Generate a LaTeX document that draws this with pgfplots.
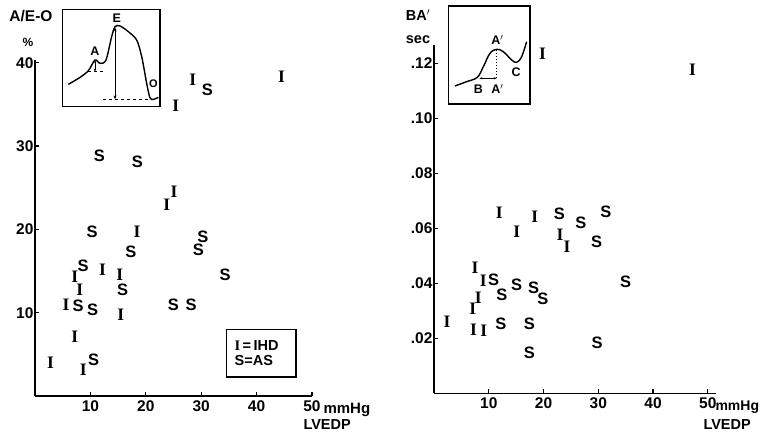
\documentclass[border=0pt]{standalone}
\usepackage{fontspec}
\setmainfont{Liberation Sans}
\newfontfamily\serifI{Liberation Serif}
\usepackage{pgfplots}
\pgfplotsset{compat=1.18}
\usetikzlibrary{arrows.meta}
\pgfplotsset{
  panel/.style={
    scale only axis,
    anchor=south west,
    axis lines=left,
    axis line style={-, line width=1.5pt},
    tick align=inside,
    major tick length=4pt,
    tick style={line width=1.2pt, black},
    /pgf/number format/assume math mode=true,
    tick label style={font=\fontsize{15.5}{17}\selectfont\bfseries},
    xtick={10,20,30,40,50},
    xticklabel style={yshift=-1pt},
    yticklabel style={xshift=2pt},
    clip=false,
  },
  imark/.style={only marks, mark=text, text mark={I}, text mark as node=true,
    text mark style={font=\fontsize{17.5}{17}\selectfont\serifI\bfseries}},
  smark/.style={only marks, mark=text, text mark={S}, text mark as node=true,
    text mark style={font=\fontsize{16.5}{17}\selectfont\bfseries}},
  inset/.style={scale only axis, anchor=south west, xmin=0, xmax=100, ymin=0, ymax=100,
    ticks=none, axis line style={line width=1.5pt}, clip=false},
}
\begin{document}
\begin{tikzpicture}
\useasboundingbox (0,0) rectangle (763pt,436pt);
% ---------------- Left panel ----------------
\begin{axis}[panel, at={(35pt,40pt)}, width=277pt, height=335.7pt,
  xmin=0, xmax=50, ymin=0, ymax=40.3,
  ytick={10,20,30,40}]
\addplot[imark] coordinates {(44.5,38.3) (28.5,38.0) (25.4,34.9) (25.1,24.5) (23.8,22.9)
 (18.4,19.7) (7.2,14.3) (12.2,15.1) (15.3,14.6) (8.1,12.7) (5.6,10.9) (15.5,9.8)
 (7.2,7.1) (2.8,4.0) (8.7,3.1)};
\addplot[smark] coordinates {(31.1,36.7) (11.6,28.8) (18.5,28.1) (10.3,19.7) (30.3,19.1)
 (29.5,17.5) (17.3,17.3) (8.7,15.6) (34.3,14.5) (15.8,12.7) (7.8,10.8) (10.4,10.3)
 (25.0,11.0) (28.2,11.0) (10.6,4.4)};
\draw[line width=1.4pt] (axis cs:34.6,8.0) rectangle (axis cs:47.1,2.3);
\node[anchor=west, font=\fontsize{14.5}{16}\selectfont\bfseries, align=left] at (axis cs:35.4,5.1)
  {{\serifI I}\,=\,IHD\\[-1pt]S=AS};
\end{axis}
\node[font=\fontsize{15.5}{17}\selectfont\bfseries] at (31pt,420pt) {A/E-O};
\node[font=\fontsize{12}{14}\selectfont\bfseries] at (28pt,394pt) {\%};
\node[anchor=west, font=\fontsize{15}{17}\selectfont\bfseries] at (320pt,26pt) {mmHg};
\node[anchor=west, font=\fontsize{14.5}{16}\selectfont\bfseries] at (300pt,11pt) {LVEDP};
% left inset
\begin{axis}[inset, at={(62.7pt,329.3pt)}, width=97.3pt, height=97.4pt]
\addplot[smooth, line width=1.4pt, tension=0.5] coordinates {(5.8,22.9) (17.8,30.1) (26.4,37)
 (33.2,47.9) (38.4,44.5) (44.5,47.9) (50.3,71.9) (53.8,82.2) (58.9,82.9) (67.5,77)
 (76,68.5) (81.2,51.4) (86.3,24) (89.7,9.2) (93.2,7.5) (98.3,9.6)};
\draw[{Stealth[length=4pt]}-{Stealth[length=4pt]}, line width=1pt] (axis cs:53.8,81.5) -- (axis cs:53.8,7.5);
\draw[dashed, line width=0.8pt] (axis cs:41.8,7.5) -- (axis cs:93.2,7.5);
\draw[{Stealth[length=3pt]}-{Stealth[length=3pt]}, line width=0.8pt] (axis cs:33.2,47.9) -- (axis cs:33.2,36);
\draw[dashed, line width=0.8pt] (axis cs:26.4,36) -- (axis cs:43.5,36);
\node[font=\fontsize{12.5}{14}\selectfont\bfseries] at (axis cs:33.2,57) {A};
\node[font=\fontsize{12.5}{14}\selectfont\bfseries] at (axis cs:55.5,91) {E};
\node[font=\fontsize{11}{13}\selectfont\bfseries] at (axis cs:93.2,23.3) {O};
\end{axis}
% ---------------- Right panel ----------------
\begin{axis}[panel, at={(434pt,42.7pt)}, width=282pt, height=348.3pt,
  xmin=0, xmax=51.5, ymin=0, ymax=0.1267,
  ytick={0.02,0.04,0.06,0.08,0.10,0.12},
  yticklabels={.02,.04,.06,.08,.10,.12}]
\addplot[imark] coordinates {(19.8,.1236) (47.2,.1176) (11.9,.0655) (18.4,.0642) (15.1,.0588)
 (23.0,.0576) (24.3,.0533) (7.5,.0455) (9.0,.0410) (8.1,.0349) (7.1,.0309) (2.4,.0260)
 (7.2,.0230) (9.1,.0228)};
\addplot[smark] coordinates {(22.9,.0652) (26.8,.0620) (31.4,.0660) (29.7,.0551) (10.9,.0412)
 (12.4,.0357) (15.1,.0394) (18.2,.0382) (19.9,.0342) (35.0,.0406) (12.2,.0251) (17.4,.0251)
 (29.8,.0184) (17.4,.0148)};
\end{axis}
\node[font=\fontsize{14.5}{16}\selectfont\bfseries] at (418pt,421pt) {BA$'$};
\node[font=\fontsize{14.5}{16}\selectfont\bfseries] at (418pt,396pt) {sec};
\node[anchor=west, font=\fontsize{14}{16}\selectfont\bfseries] at (712pt,29pt) {mmHg};
\node[anchor=west, font=\fontsize{14.5}{16}\selectfont\bfseries] at (700pt,11pt) {LVEDP};
% right inset
\begin{axis}[inset, at={(448.3pt,332pt)}, width=81.7pt, height=98pt]
\addplot[smooth, line width=1.4pt, tension=0.6] coordinates {(8.2,18.4) (22.4,22.8) (35.5,27.2)
 (42.9,38.1) (51,51.7) (59.2,55.8) (67.3,53.4) (77.6,44.9) (83.7,42.5) (89.8,48.3) (95.9,63.6)};
\draw[dotted, line width=1pt] (axis cs:59.2,54.8) -- (axis cs:59.2,26.2);
\draw[{Stealth[length=3pt]}-{Stealth[length=3pt]}, line width=0.9pt] (axis cs:38,26.2) -- (axis cs:59.2,26.2);
\node[font=\fontsize{12.5}{14}\selectfont\bfseries] at (axis cs:60,65) {A$'$};
\node[font=\fontsize{12.5}{14}\selectfont\bfseries] at (axis cs:82.9,32) {C};
\node[font=\fontsize{12.5}{14}\selectfont\bfseries] at (axis cs:36.7,15) {B};
\node[font=\fontsize{12.5}{14}\selectfont\bfseries] at (axis cs:60,15) {A$'$};
\end{axis}
\end{tikzpicture}
\end{document}
